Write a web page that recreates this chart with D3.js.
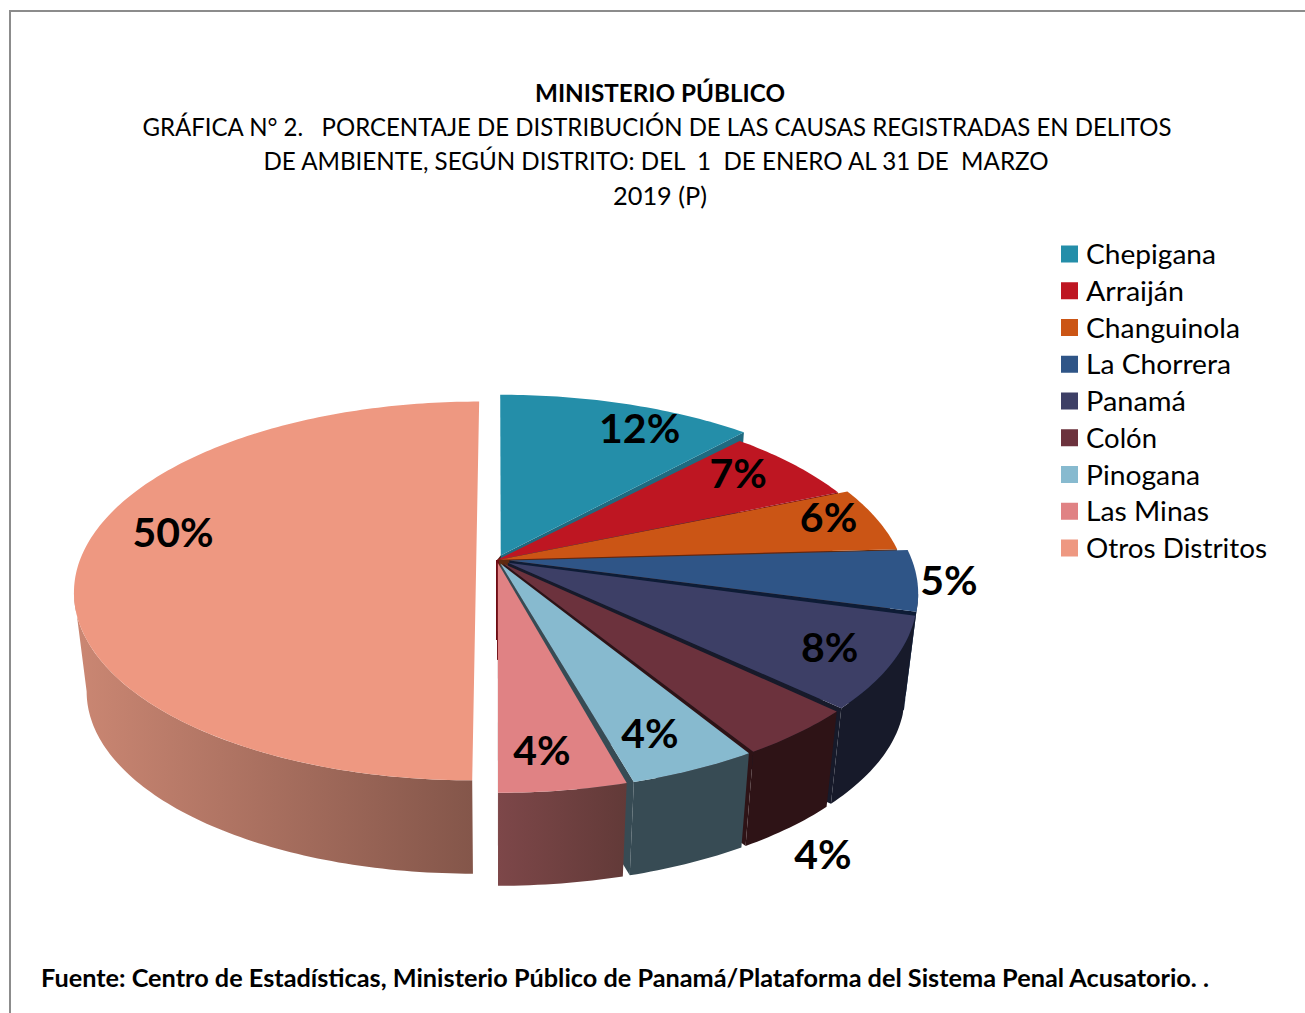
<!DOCTYPE html>
<html lang="en">
<head>
  <meta charset="UTF-8" />
  <title>Ministerio Público - Gráfica 2</title>
  <script src="https://d3js.org/d3.v7.min.js"></script>
  <style>
    html, body { margin: 0; padding: 0; background: #fff; overflow: hidden; }
    svg { display: block; }
    text { font-family: Lato, "Open Sans", sans-serif; fill: #000; white-space: pre; }
  </style>
</head>
<body>
<svg width="1305" height="1013"></svg>
<script>
// data (the printed labels are these, rounded)
const districts = ["Chepigana", "Arraiján", "Changuinola", "La Chorrera", "Panamá", "Colón", "Pinogana", "Las Minas", "Otros Distritos"];
const shares = [11.8, 6.8, 5.5, 5.1, 7.8, 4.2, 4.4, 4.4, 50];

const topColors = ["#248ea9", "#be1622", "#cb5515", "#2f5587", "#3d3f66", "#6c323d", "#87bacf", "#e08284", "#ee9881"];
const sideColors = ["#1f6a80", "#6e0d14", "#5e2a10", "#0e1c36", "#171a2a", "#2e1316", "#374b54", "url(#wallMinas)", "url(#wallOtros)"];

// how far each slice is pulled out, its radius factor and the gap left before it
const explode = [0.025, 0, 0.005, 0.03, 0.03, 0.025, 0.02, 0.015, 0.05];
const radiusFactor = [0.98, 0.95, 0.97, 0.97, 0.97, 0.975, 0.98, 0.985, 0.955];
const gapBefore = [0, 1.0, 0.2, 0, 0.5, 0.4, 0.3, 0.6, 0];
const labelNudge = [[36, -4], [-10, -4], [18, -9], [117, 4], [22, 7], [91, 160], [0, 12], [-8, 13], [8, -28]];

const titleLines = [
  { text: "MINISTERIO PÚBLICO", x: 660, y: 102, w: 250, bold: true },
  { text: "GRÁFICA N° 2.   PORCENTAJE DE DISTRIBUCIÓN DE LAS CAUSAS REGISTRADAS EN DELITOS", x: 657, y: 136, w: 1029 },
  { text: "DE AMBIENTE, SEGÚN DISTRITO: DEL  1  DE ENERO AL 31 DE  MARZO", x: 656, y: 170, w: 785 },
  { text: "2019 (P)", x: 660, y: 205, w: 94 }
];
const source = "Fuente: Centro de Estadísticas, Ministerio Público de Panamá/Plataforma del Sistema Penal Acusatorio. .";

const svg = d3.select("svg");
const defs = svg.append("defs");

function wallGradient(id, from, to) {
  const g = defs.append("linearGradient").attr("id", id);
  g.append("stop").attr("offset", "0%").attr("stop-color", from);
  g.append("stop").attr("offset", "100%").attr("stop-color", to);
}
wallGradient("wallMinas", "#7d4749", "#623a38");
wallGradient("wallOtros", "#cb8773", "#84564a");

// frame
svg.append("path")
  .attr("d", "M10,1013V11H1305")
  .attr("fill", "none")
  .attr("stroke", "#8c8c8c")
  .attr("stroke-width", 2);

// perspective of the pie plane
const cx = 497, cy = 560, Rx = 415, Ry = 193, persp = 0.171;
const wallHeight = 100, bottomScale = 0.97;

function project(u, v, bottom) {
  const k = 1 / (1 - persp * v);
  const x = cx + Rx * u * k, y = cy + Ry * v * k;
  if (!bottom) return [x, y];
  return [cx + (x - cx) * bottomScale, cy + (y - cy) * bottomScale + wallHeight];
}

const arcs = d3.pie().sort(null).value(d => d)(shares);
const line = d3.line();
const rad = d3.scaleLinear().domain([0, 360]).range([0, 2 * Math.PI]);

arcs.forEach((a, i) => {
  a.mid = (a.startAngle + a.endAngle) / 2;
  a.from = a.startAngle + rad(gapBefore[i]);
  a.ex = explode[i] * Math.sin(a.mid);
  a.ey = -explode[i] * Math.cos(a.mid);
  a.f = radiusFactor[i];
});

function point(a, angle, r, bottom) {
  return project(a.ex + r * a.f * Math.sin(angle), a.ey - r * a.f * Math.cos(angle), bottom);
}

function rim(a, start, end, bottom) {
  const n = Math.max(8, Math.ceil((end - start) * 60));
  return d3.range(n + 1).map(j => point(a, start + (end - start) * j / n, 1, bottom));
}

// the wall only shows on the front part of the plane
const wallFrom = Math.acos(-persp), wallTo = 2 * Math.PI - wallFrom;
const pie = svg.append("g");

function drawSlice(a, i) {
  const g = pie.append("g");
  // flat face at the clockwise end of the slice
  if (i < 8) {
    g.append("path")
      .attr("d", line([point(a, a.endAngle, 0), point(a, a.endAngle, 1), point(a, a.endAngle, 1, true), point(a, a.endAngle, 0, true)]) + "Z")
      .attr("fill", i === 7 ? "#6e3f40" : sideColors[i]);
  }
  // outer wall
  const start = Math.max(a.from, wallFrom), end = Math.min(a.endAngle, wallTo);
  if (end > start) {
    g.append("path")
      .attr("d", line(rim(a, start, end).concat(rim(a, start, end, true).reverse())) + "Z")
      .attr("fill", sideColors[i]);
  }
  // top
  g.append("path")
    .attr("d", line([point(a, a.from, 0)].concat(rim(a, a.from, a.endAngle))) + "Z")
    .attr("fill", topColors[i]);
}

// the big slice sits apart, draw it first, then the rest clockwise
drawSlice(arcs[8], 8);
const hubTop = project(0, 0);
pie.append("path")
  .attr("d", line([hubTop, [hubTop[0], hubTop[1] + wallHeight * 0.8]]))
  .attr("stroke", "#6e0d14")
  .attr("stroke-width", 2)
  .attr("fill", "none");
// dark core where the pulled-out slices leave a small hole
pie.append("path")
  .attr("d", line(d3.polygonHull(arcs.slice(0, 8).map(a => point(a, a.mid, 0)))) + "Z")
  .attr("fill", "#4f1a10");
arcs.slice(0, 8).forEach((a, i) => drawSlice(a, i));

// percentage labels
svg.append("g").selectAll("text")
  .data(arcs)
  .join("text")
  .attr("x", (a, i) => project(0.8 * Math.sin(a.mid), -0.8 * Math.cos(a.mid))[0] + labelNudge[i][0])
  .attr("y", (a, i) => project(0.8 * Math.sin(a.mid), -0.8 * Math.cos(a.mid))[1] + labelNudge[i][1])
  .attr("dy", "0.36em")
  .attr("text-anchor", "middle")
  .attr("font-size", 41)
  .attr("font-weight", 700)
  .text(a => Math.round(a.value) + "%");

// titles
svg.append("g").selectAll("text")
  .data(titleLines)
  .join("text")
  .attr("x", d => d.x)
  .attr("y", d => d.y)
  .attr("text-anchor", "middle")
  .attr("font-size", 24.5)
  .attr("font-weight", d => d.bold ? 700 : 400)
  .attr("textLength", d => d.w)
  .attr("lengthAdjust", "spacingAndGlyphs")
  .text(d => d.text);

svg.append("text")
  .attr("x", 41)
  .attr("y", 987)
  .attr("font-size", 24.5)
  .attr("font-weight", 700)
  .attr("textLength", 1168)
  .attr("lengthAdjust", "spacingAndGlyphs")
  .text(source);

// legend
const legendY = d3.scalePoint().domain(districts).range([254, 548]);
const legendColor = d3.scaleOrdinal().domain(districts).range(topColors);
const legendWidths = [130, 98, 154, 145, 100, 71, 114, 123, 181];

const legend = svg.append("g").selectAll("g")
  .data(districts)
  .join("g")
  .attr("transform", d => `translate(0,${legendY(d)})`);

legend.append("rect")
  .attr("x", 1061)
  .attr("y", -8.5)
  .attr("width", 17)
  .attr("height", 17)
  .attr("fill", d => legendColor(d));

legend.append("text")
  .attr("x", 1086)
  .attr("y", 10)
  .attr("font-size", 27)
  .attr("textLength", (d, i) => legendWidths[i])
  .attr("lengthAdjust", "spacingAndGlyphs")
  .text(d => d);
</script>
</body>
</html>
